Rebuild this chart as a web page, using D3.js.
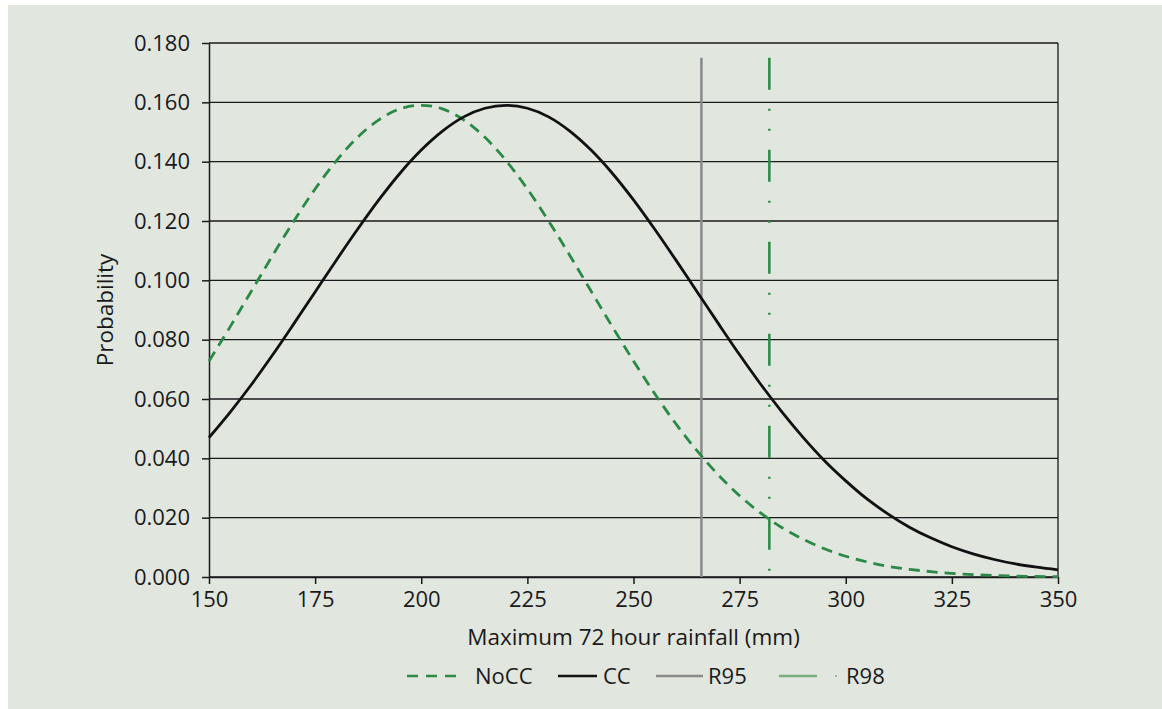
<!DOCTYPE html>
<meta charset="utf-8">
<style>
  body { margin: 0; background: #fff; }
  svg text { font-family: "Open Sans", sans-serif; fill: #1a1a1a; }
  .grid line { stroke: #1a1a1a; stroke-width: 1.3px; }
  .axis path, .axis line { stroke: #1a1a1a; stroke-width: 1.5px; }
  .axis text { font-size: 22px; }
</style>
<body>
<script src="https://d3js.org/d3.v7.min.js"></script>
<script>
  // rainfall (mm), sampled every 5 mm
  var rainfall = d3.range(150, 351, 5);
  var noCC = [0.0728, 0.0844, 0.0964, 0.1084, 0.1200, 0.1308, 0.1403, 0.1482, 0.1541, 0.1578,
    0.1590, 0.1578, 0.1541, 0.1482, 0.1403, 0.1308, 0.1200, 0.1084, 0.0964, 0.0844,
    0.0728, 0.0618, 0.0516, 0.0425, 0.0344, 0.0274, 0.0215, 0.0166, 0.0127, 0.0095,
    0.0070, 0.0051, 0.0036, 0.0026, 0.0018, 0.0012, 0.0008, 0.0005, 0.0003, 0.0002, 0.0001];
  var cc = [0.0470, 0.0556, 0.0649, 0.0749, 0.0854, 0.0961, 0.1068, 0.1172, 0.1271, 0.1361,
    0.1439, 0.1503, 0.1551, 0.1580, 0.1590, 0.1580, 0.1551, 0.1503, 0.1439, 0.1361,
    0.1271, 0.1172, 0.1068, 0.0961, 0.0854, 0.0749, 0.0649, 0.0556, 0.0470, 0.0392,
    0.0324, 0.0263, 0.0212, 0.0168, 0.0132, 0.0102, 0.0078, 0.0059, 0.0044, 0.0033, 0.0024];
  var r95 = 266, r98 = 282, markerTop = 0.175;
  var xTicks = [150, 175, 200, 225, 250, 275, 300, 325, 350];
  var yTicks = [0, 0.02, 0.04, 0.06, 0.08, 0.10, 0.12, 0.14, 0.16, 0.18];

  var W = 1162, H = 709;
  var margin = { top: 43, right: 104, bottom: 132, left: 209 },
    width = W - margin.left - margin.right,
    height = H - margin.top - margin.bottom;

  var svg = d3.select("body").append("svg")
    .attr("width", W)
    .attr("height", H);

  // panel background
  svg.append("rect")
    .attr("x", 8).attr("y", 5)
    .attr("width", W - 8).attr("height", H - 5)
    .attr("fill", "#e1e6df");

  var g = svg.append("g")
    .attr("transform", "translate(" + margin.left + "," + margin.top + ")");

  var x = d3.scaleLinear().domain([150, 350]).range([0, width]);
  var y = d3.scaleLinear().domain([0, 0.18]).range([height, 0]);

  // horizontal gridlines
  g.append("g")
    .attr("class", "grid")
    .selectAll("line")
    .data(yTicks)
    .enter()
    .append("line")
    .attr("x1", 0).attr("x2", width)
    .attr("y1", function (d) { return y(d); })
    .attr("y2", function (d) { return y(d); });

  // right border
  g.append("line")
    .attr("x1", width).attr("x2", width)
    .attr("y1", 0).attr("y2", height)
    .style("stroke", "#1a1a1a").style("stroke-width", 1.3);

  // X axis
  g.append("g")
    .attr("class", "axis")
    .attr("transform", "translate(0," + height + ")")
    .call(d3.axisBottom(x).tickValues(xTicks).tickSize(7).tickSizeOuter(0).tickPadding(7));

  // Y axis
  g.append("g")
    .attr("class", "axis")
    .call(d3.axisLeft(y).tickValues(yTicks).tickSize(7).tickSizeOuter(0).tickPadding(12)
      .tickFormat(d3.format(".3f")));

  // marker lines
  g.append("line")
    .attr("x1", x(r95)).attr("x2", x(r95))
    .attr("y1", y(0)).attr("y2", y(markerTop))
    .style("stroke", "#8a8a8a").style("stroke-width", 2.5);

  g.append("line")
    .attr("x1", x(r98)).attr("x2", x(r98))
    .attr("y1", y(markerTop)).attr("y2", y(0))
    .style("stroke", "#2a8a45").style("stroke-width", 2.5)
    .style("stroke-dasharray", "32,19,2,18,2,19");

  var pts = rainfall.map(function (r, i) { return { r: r, a: noCC[i], b: cc[i] }; });

  var lineNoCC = d3.line().curve(d3.curveMonotoneX)
    .x(function (d) { return x(d.r); })
    .y(function (d) { return y(d.a); });
  var lineCC = d3.line().curve(d3.curveMonotoneX)
    .x(function (d) { return x(d.r); })
    .y(function (d) { return y(d.b); });

  g.append("path")
    .datum(pts)
    .attr("d", lineNoCC)
    .style("fill", "none")
    .style("stroke", "#2a8a45")
    .style("stroke-width", 2.8)
    .style("stroke-dasharray", "11,7");

  g.append("path")
    .datum(pts)
    .attr("d", lineCC)
    .style("fill", "none")
    .style("stroke", "#111")
    .style("stroke-width", 2.8);

  // axis labels
  svg.append("text")
    .attr("text-anchor", "middle")
    .attr("x", margin.left + width / 2)
    .attr("y", 645)
    .style("font-size", "22.5px")
    .text("Maximum 72 hour rainfall (mm)");

  svg.append("text")
    .attr("text-anchor", "middle")
    .attr("transform", "translate(113," + (margin.top + height / 2) + ") rotate(-90)")
    .style("font-size", "22.5px")
    .text("Probability");

  // handmade legend
  var legend = svg.append("g").attr("transform", "translate(0,676)");
  legend.append("line").attr("x1", 407).attr("x2", 461).attr("y1", 0).attr("y2", 0)
    .style("stroke", "#2a8a45").style("stroke-width", 2.5).style("stroke-dasharray", "11,8");
  legend.append("text").attr("x", 475).attr("y", 0).attr("dy", "0.35em").style("font-size", "22px").text("NoCC");
  legend.append("line").attr("x1", 558).attr("x2", 597).attr("y1", 0).attr("y2", 0)
    .style("stroke", "#111").style("stroke-width", 2.5);
  legend.append("text").attr("x", 603).attr("y", 0).attr("dy", "0.35em").style("font-size", "22px").text("CC");
  legend.append("line").attr("x1", 656).attr("x2", 703).attr("y1", 0).attr("y2", 0)
    .style("stroke", "#8a8a8a").style("stroke-width", 2.5);
  legend.append("text").attr("x", 708).attr("y", 0).attr("dy", "0.35em").style("font-size", "22px").text("R95");
  legend.append("line").attr("x1", 779).attr("x2", 817).attr("y1", 0).attr("y2", 0)
    .style("stroke", "#7bb07e").style("stroke-width", 2.5);
  legend.append("circle").attr("cx", 836).attr("cy", 0).attr("r", 1).style("fill", "#7bb07e");
  legend.append("text").attr("x", 846).attr("y", 0).attr("dy", "0.35em").style("font-size", "22px").text("R98");
</script>
</body>
